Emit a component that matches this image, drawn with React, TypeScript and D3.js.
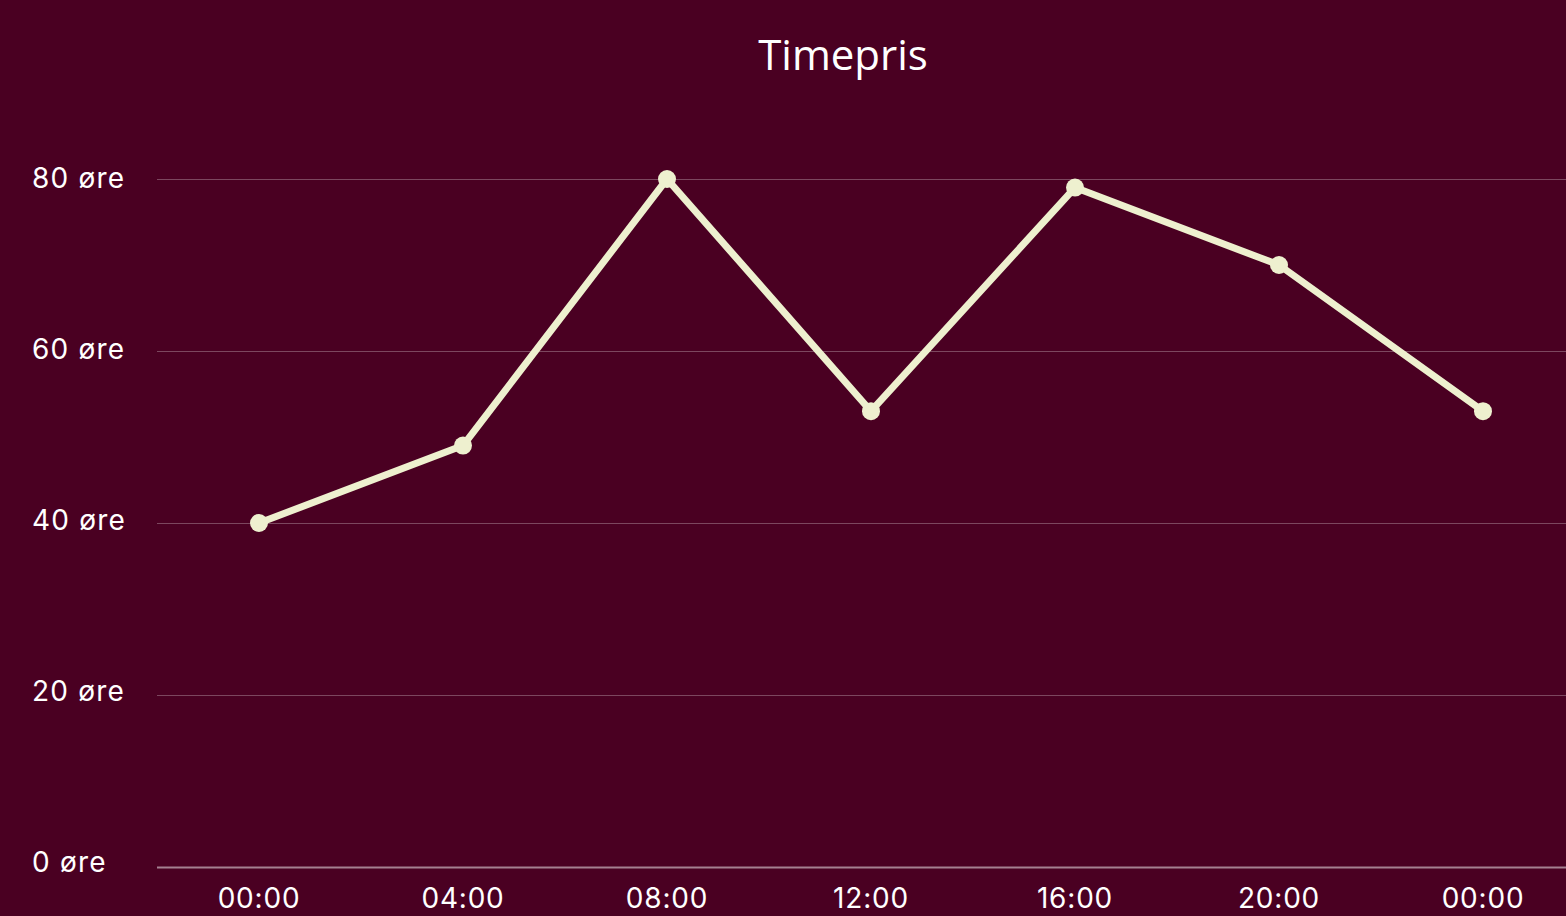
import React, { useEffect, useRef } from "react";
import * as d3 from "d3";

// data
const hours: string[] = ["00:00", "04:00", "08:00", "12:00", "16:00", "20:00", "00:00"];
const prices: number[] = [40, 49, 80, 53, 79, 70, 53];
const yTicks: number[] = [0, 20, 40, 60, 80];
const title = "Timepris";

const App = () => {
  const svgRef = useRef<SVGSVGElement>(null);

  useEffect(() => {
    const width = 1566;
    const height = 916;
    const svg = d3.select(svgRef.current).attr("width", width).attr("height", height);
    svg.selectAll("*").remove();

    svg.append("rect").attr("width", width).attr("height", height).attr("fill", "#4a0022");

    const x = d3.scalePoint<number>()
      .domain(d3.range(hours.length))
      .range([259, 1483]);
    const y = d3.scaleLinear().domain([0, 80]).range([867, 179]);
    // tick labels sit a touch above their gridlines
    const yLabel = d3.scaleLinear().domain([0, 80]).range([862, 178]);

    // title
    svg.append("text")
      .attr("x", 843)
      .attr("y", 70)
      .attr("text-anchor", "middle")
      .attr("fill", "#ffffff")
      .style("font-family", "'Open Sans', 'Noto Sans', sans-serif")
      .style("font-size", "42px")
      .text(title);

    // grid
    svg.append("g")
      .selectAll("line")
      .data(yTicks)
      .join("line")
      .attr("x1", 157)
      .attr("x2", width)
      .attr("y1", d => y(d) + 0.5)
      .attr("y2", d => y(d) + 0.5)
      .attr("stroke", d => (d === 0 ? "rgba(255,255,255,0.5)" : "rgba(255,255,255,0.28)"))
      .attr("stroke-width", d => (d === 0 ? 2 : 1.2));

    const labelFont = "Inter, 'Noto Sans', sans-serif";

    // y labels
    svg.append("g")
      .selectAll("text")
      .data(yTicks)
      .join("text")
      .attr("x", 32)
      .attr("y", d => yLabel(d))
      .attr("dy", "0.36em")
      .attr("fill", "#ffffff")
      .style("font-family", labelFont)
      .style("font-size", "28px")
      .style("letter-spacing", "1.2px")
      .text(d => `${d} øre`);

    // x labels
    svg.append("g")
      .selectAll("text")
      .data(hours)
      .join("text")
      .attr("x", (_, i) => x(i)!)
      .attr("y", 908)
      .attr("text-anchor", "middle")
      .attr("fill", "#ffffff")
      .style("font-family", labelFont)
      .style("font-size", "28px")
      .style("letter-spacing", "0.8px")
      .text(d => d);

    const line = d3.line<number>()
      .x((_, i) => x(i)!)
      .y(d => y(d));

    svg.append("path")
      .datum(prices)
      .attr("fill", "none")
      .attr("stroke", "#eef0cf")
      .attr("stroke-width", 7)
      .attr("stroke-linejoin", "round")
      .attr("d", line);

    svg.append("g")
      .selectAll("circle")
      .data(prices)
      .join("circle")
      .attr("cx", (_, i) => x(i)!)
      .attr("cy", d => y(d))
      .attr("r", 9)
      .attr("fill", "#eef0cf");
  }, []);

  return <svg ref={svgRef} style={{ display: "block", position: "absolute", left: 0, top: 0 }}></svg>;
};

export default App;
